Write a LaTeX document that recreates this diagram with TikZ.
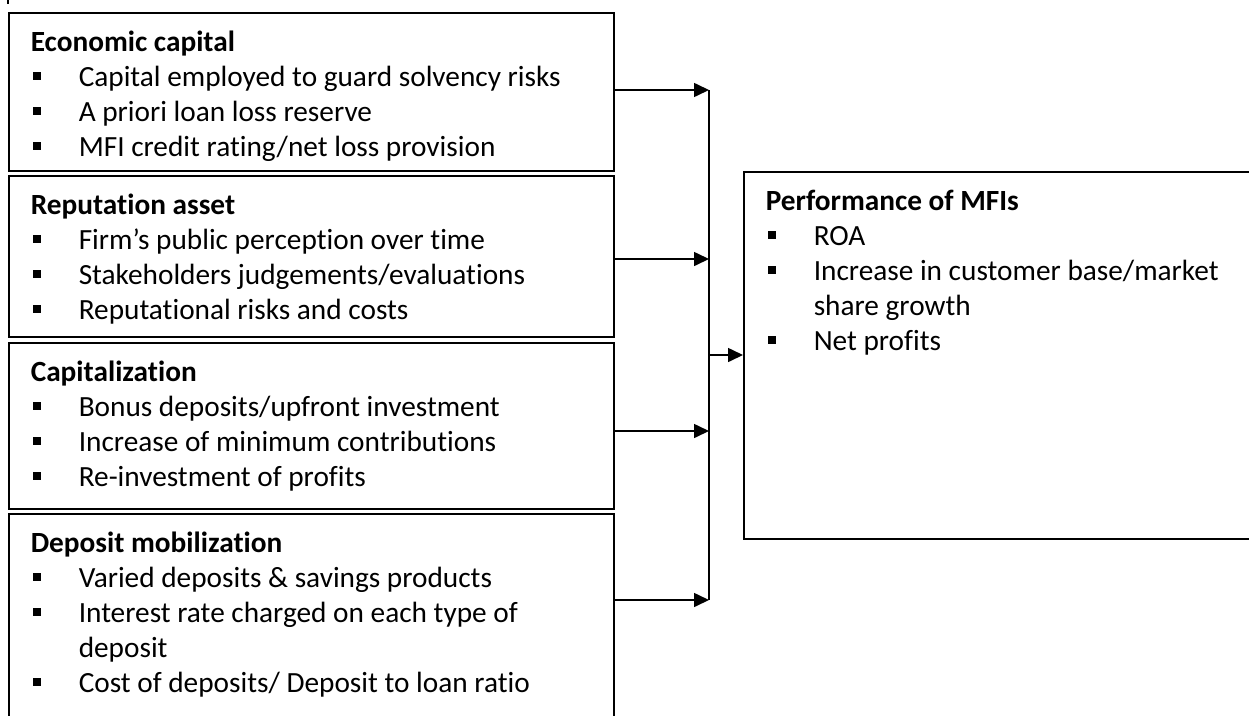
\documentclass[tikz,border=0pt]{standalone}
\usepackage{fontspec}
\setmainfont{Carlito}[Ligatures=NoCommon]
\usetikzlibrary{arrows.meta, positioning}

% bullet line with hanging indent
\newcommand{\bul}[1]{\par\hangindent=48pt\hangafter=1\noindent\makebox[48pt][l]{\hspace*{2pt}\rule[6pt]{8pt}{8pt}}#1}
% fixed-height body of a box, text starting at the top
\newcommand{\boxbody}[2]{\vbox to #1{\hsize=561pt\parindent=0pt\raggedright\vskip 18pt #2\par\vfil}}

\tikzset{
  listbox/.style={draw, line width=1.5pt, inner sep=0pt, anchor=north west,
    minimum width=605pt, font=\fontsize{29.3}{35}\selectfont},
  flow/.style={-{Triangle[length=15pt,width=14pt]}, line width=1.6pt},
  bus/.style={line width=1.6pt}
}

\begin{document}
\begin{tikzpicture}[x=1pt, y=-1pt]
  \useasboundingbox (0,0) rectangle (1249,715);
  \clip (0,0) rectangle (1249,715);

  % Factor boxes
  \node[listbox] (econ) at (8,12) {\boxbody{158pt}{%
    \textbf{Economic capital}
    \bul{Capital employed to guard solvency risks}
    \bul{A priori loan loss reserve}
    \bul{MFI credit rating/net loss provision}}};
  \node[listbox] (repu) at (8,175) {\boxbody{161pt}{%
    \textbf{Reputation asset}
    \bul{Firm’s public perception over time}
    \bul{Stakeholders judgements/evaluations}
    \bul{Reputational risks and costs}}};
  \node[listbox] (capi) at (8,342) {\boxbody{166pt}{%
    \textbf{Capitalization}
    \bul{Bonus deposits/upfront investment}
    \bul{Increase of minimum contributions}
    \bul{Re-investment of profits}}};
  \node[listbox] (depo) at (8,513) {\boxbody{240pt}{%
    \textbf{Deposit mobilization}
    \bul{Varied deposits \& savings products}
    \bul{Interest rate charged on each type of\newline deposit}
    \bul{Cost of deposits/ Deposit to loan ratio}}};

  % Outcome box
  \node[listbox] (perf) at (743,171) {\boxbody{367pt}{%
    \textbf{Performance of MFIs}
    \bul{ROA}
    \bul{Increase in customer base/market\newline share growth}
    \bul{Net profits}}};

  % Collector line
  \coordinate (b1) at (709,90);
  \coordinate (b2) at (709,259);
  \coordinate (b3) at (709,431);
  \coordinate (b4) at (709,600);
  \coordinate (bp) at (709,355);

  \foreach \src/\pt in {econ/b1, repu/b2, capi/b3, depo/b4}
    \draw[flow] (\pt -| \src.east) -- (\pt);
  \draw[bus] (b1) -- (b4);
  \draw[flow] (bp) -- (bp -| perf.west);

  % Stub above first box
  \draw[bus] ([yshift=12pt]econ.north west) -- ++(0,4);
\end{tikzpicture}
\end{document}
